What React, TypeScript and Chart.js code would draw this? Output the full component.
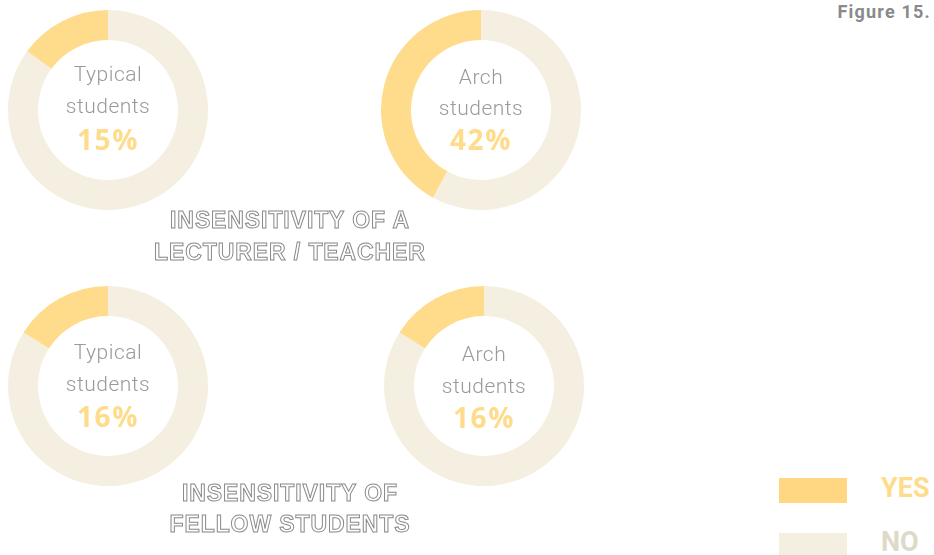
import React, { useEffect, useRef } from "react";
import { Chart, registerables } from "chart.js";

Chart.register(...registerables);

const categories = ["NO", "YES"];
const groupLabels = ["Typical students", "Arch students", "Typical students", "Arch students"];
const yesValues = [15, 42, 16, 16];
const noValues = [85, 58, 84, 84];
const titles = [["INSENSITIVITY OF A", "LECTURER / TEACHER"], ["INSENSITIVITY OF", "FELLOW STUDENTS"]];

const YELLOW = "#FFDC8B";
const BEIGE = "#F5EFE1";

const donutBoxes = [
  { left: 8, top: 10, lines: [74, 106, 139] },
  { left: 381, top: 10, lines: [77, 108, 139] },
  { left: 8, top: 286, lines: [352, 384, 416] },
  { left: 384, top: 286, lines: [354, 386, 417] },
];

function Donut({ idx }: { idx: number }) {
  const ref = useRef<HTMLCanvasElement | null>(null);
  useEffect(() => {
    if (!ref.current) return;
    const chart = new Chart(ref.current, {
      type: "doughnut",
      data: {
        labels: categories,
        datasets: [
          {
            data: [noValues[idx], yesValues[idx]],
            backgroundColor: [BEIGE, YELLOW],
            borderWidth: 0,
          },
        ],
      },
      options: {
        responsive: false,
        animation: false,
        cutout: "70%",
        layout: { padding: 0 },
        plugins: { legend: { display: false }, tooltip: { enabled: false } },
      },
    });
    return () => chart.destroy();
  }, [idx]);
  const b = donutBoxes[idx];
  const words = groupLabels[idx].split(" ");
  const cx = b.left + 100;
  const lineStyle = (y: number, extra: React.CSSProperties): React.CSSProperties => ({
    position: "absolute",
    left: cx - 100,
    width: 200,
    top: y - 18,
    height: 36,
    lineHeight: "36px",
    textAlign: "center",
    whiteSpace: "nowrap",
    ...extra,
  });
  const labelFont: React.CSSProperties = { fontFamily: "Roboto", fontWeight: 300, fontSize: 21, letterSpacing: 0.5, color: "#9a9a9a" };
  return (
    <>
      <canvas
        ref={ref}
        width={200}
        height={200}
        style={{ position: "absolute", left: b.left, top: b.top, width: 200, height: 200 }}
      />
      <div style={lineStyle(b.lines[0], labelFont)}>{words[0]}</div>
      <div style={lineStyle(b.lines[1], labelFont)}>{words[1]}</div>
      <div style={lineStyle(b.lines[2], { fontFamily: "'Open Sans'", fontWeight: 700, fontSize: 28, letterSpacing: 1.5, color: YELLOW })}>
        {yesValues[idx]}%
      </div>
    </>
  );
}

const outline: React.CSSProperties = {
  position: "absolute",
  width: 400,
  left: 90,
  height: 32,
  lineHeight: "32px",
  textAlign: "center",
  fontFamily: "'Liberation Sans', Arial, sans-serif",
  fontWeight: 700,
  fontSize: 23,
  letterSpacing: 0.9,
  color: "#ffffff",
  WebkitTextStroke: "1px #8a8a8a",
  whiteSpace: "nowrap",
};

export default function App() {
  return (
    <div style={{ position: "fixed", left: 0, top: 0, width: 934, height: 555, background: "#fff", overflow: "hidden" }}>
      {[0, 1, 2, 3].map((i) => (
        <Donut key={i} idx={i} />
      ))}
      <div style={{ ...outline, top: 220 - 16 }}>{titles[0][0]}</div>
      <div style={{ ...outline, top: 252 - 16 }}>{titles[0][1]}</div>
      <div style={{ ...outline, top: 493 - 16 }}>{titles[1][0]}</div>
      <div style={{ ...outline, top: 524 - 16 }}>{titles[1][1]}</div>
      <div
        style={{
          position: "absolute",
          right: 3,
          top: 0,
          height: 24,
          lineHeight: "24px",
          fontFamily: "Roboto",
          fontWeight: 700,
          fontSize: 18,
          letterSpacing: 1.2,
          color: "#8a8a8a",
        }}
      >
        Figure 15.
      </div>
      <div style={{ position: "absolute", left: 779, top: 478, width: 68, height: 25, background: "#FFD682" }} />
      <div style={{ position: "absolute", left: 779, top: 533, width: 68, height: 25, background: BEIGE }} />
      <div
        style={{ position: "absolute", left: 881, top: 472, height: 32, lineHeight: "32px", fontFamily: "Roboto", fontWeight: 700, fontSize: 27, color: YELLOW }}
      >
        {categories[1]}
      </div>
      <div
        style={{ position: "absolute", left: 881, top: 526, height: 32, lineHeight: "32px", fontFamily: "Roboto", fontWeight: 700, fontSize: 27, color: "#DDDAC8" }}
      >
        {categories[0]}
      </div>
    </div>
  );
}
